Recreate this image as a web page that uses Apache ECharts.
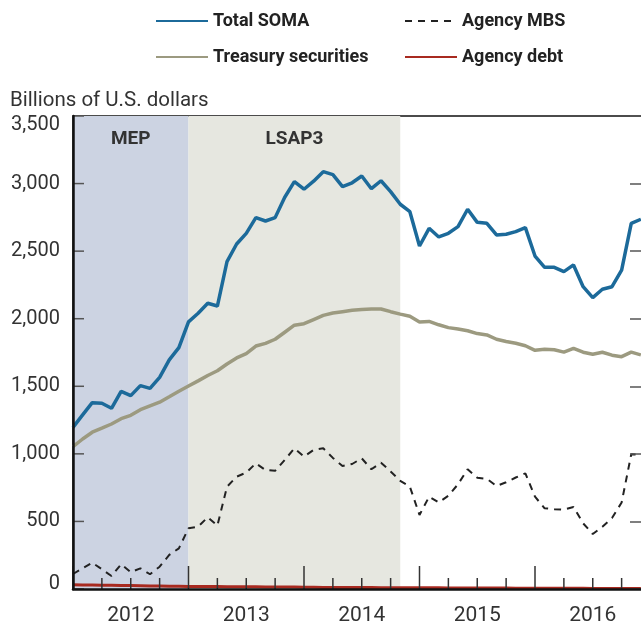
<!DOCTYPE html>
<html>
<head>
<meta charset="utf-8">
<script src="https://cdn.jsdelivr.net/npm/echarts@6/dist/echarts.min.js"></script>
<style>
  html, body { margin: 0; padding: 0; background: #fff; }
  #main { width: 641px; height: 629px; }
</style>
</head>
<body>
<div id="main"></div>
<script>
// monthly, Jan 2012 (index 0) to Dec 2016 (index 59)
var startYear = 2012;
var totalSoma = [1196, 1288, 1379, 1374, 1337, 1463, 1431, 1505, 1485, 1566, 1695, 1786,
  1977, 2040, 2114, 2094, 2422, 2553, 2632, 2748, 2723, 2748, 2899, 3014,
  2958, 3018, 3088, 3066, 2977, 3006, 3056, 2962, 3021, 2940, 2847, 2792,
  2538, 2669, 2605, 2632, 2681, 2810, 2713, 2706, 2620, 2625, 2644, 2674,
  2464, 2380, 2380, 2348, 2398, 2237, 2156, 2218, 2237, 2360, 2706, 2736];
var treasury = [1053, 1110, 1160, 1190, 1221, 1260, 1285, 1327, 1355, 1382, 1422, 1463,
  1502, 1540, 1580, 1615, 1665, 1710, 1742, 1798, 1818, 1848, 1900, 1952,
  1963, 1994, 2025, 2042, 2052, 2062, 2069, 2071, 2072, 2052, 2034, 2018,
  1976, 1980, 1955, 1934, 1924, 1911, 1890, 1880, 1848, 1832, 1818, 1800,
  1766, 1774, 1770, 1753, 1781, 1752, 1737, 1752, 1730, 1719, 1753, 1732];
var agencyMbs = [111, 153, 195, 146, 96, 183, 124, 153, 109, 165, 252, 301,
  449, 461, 531, 469, 757, 831, 861, 930, 880, 875, 955, 1041,
  979, 1029, 1041, 970, 910, 925, 967, 886, 935, 870, 800, 757,
  548, 683, 640, 690, 775, 886, 824, 815, 762, 790, 825, 856,
  683, 597, 591, 587, 607, 486, 407, 461, 525, 640, 997, 992];
var agencyDebt = [32, 30, 29, 28, 27, 26, 25, 24, 23, 22, 21, 20,
  19, 19, 18, 18, 17, 17, 16, 16, 15, 15, 14, 14,
  13, 13, 12, 12, 12, 11, 11, 11, 10, 10, 10, 10,
  9, 9, 9, 8, 8, 8, 7, 7, 7, 7, 6, 6,
  6, 6, 5, 5, 5, 5, 4, 4, 4, 4, 3, 3];
var programs = [['MEP', 0, 12], ['LSAP3', 12, 34]];
var programColors = ['#ccd3e2', '#e6e7e0'];
var yTicks = [0, 500, 1000, 1500, 2000, 2500, 3000, 3500];
// quarter marks (month index); every 12th is a year mark
var quarterTicks = [0, 3, 6, 9, 12, 15, 18, 21, 24, 27, 30, 33, 36, 39, 42, 45, 48, 51, 54, 57];

function pairs(arr) {
  return arr.map(function (v, i) { return [i, v]; });
}
function fmt(v) {
  return String(v).replace(/\B(?=(\d{3})+(?!\d))/g, ',');
}

var chart = echarts.init(document.getElementById('main'));
var font = 'Roboto, "Liberation Sans", sans-serif';
// axis runs to Jan 2017, just past the right edge of the picture
var xMax = 60;
var monthPx = 9.625;
var overhang = 73 + xMax * monthPx - 641;
var plotTop = 116, plotBottom = 589;

var legendText = { fontSize: 18, fontWeight: 'bold', color: '#222', fontFamily: font };

// inward tick marks, placed through the axes' own scales
function xTickSeries() {
  return {
    type: 'custom', silent: true, clip: false, z: 10,
    encode: { x: 0, y: 1 },
    data: quarterTicks.map(function (m) { return [m, 0]; }),
    renderItem: function (params, api) {
      var m = api.value(0);
      var p = api.coord([m, api.value(1)]);
      var len = m % 12 === 0 ? 23 : 11;
      return {
        type: 'line',
        shape: { x1: p[0], y1: p[1], x2: p[0], y2: p[1] - len },
        style: { stroke: '#333', lineWidth: 1.5 }
      };
    }
  };
}
function yTickSeries() {
  return {
    type: 'custom', silent: true, clip: false, z: 10,
    encode: { x: 0, y: 1 },
    data: yTicks.map(function (v) { return [0, v]; }),
    renderItem: function (params, api) {
      var p = api.coord([api.value(0), api.value(1)]);
      return {
        type: 'line',
        shape: { x1: p[0], y1: p[1], x2: p[0] + 11, y2: p[1] },
        style: { stroke: '#555', lineWidth: 1.5 }
      };
    }
  };
}

var option = {
  animation: false,
  textStyle: { fontFamily: font },
  title: {
    text: 'Billions of U.S. dollars',
    left: 5, top: 85,
    textStyle: { fontSize: 20.5, fontWeight: 'normal', color: '#333', fontFamily: font }
  },
  legend: [
    {
      orient: 'vertical', left: 150, top: 7,
      itemWidth: 52, itemHeight: 14, itemGap: 18,
      itemStyle: { opacity: 0 },
      data: ['Total SOMA', 'Treasury securities'],
      textStyle: legendText
    },
    {
      orient: 'vertical', left: 399, top: 7,
      itemWidth: 52, itemHeight: 14, itemGap: 18,
      itemStyle: { opacity: 0 },
      data: ['Agency MBS', 'Agency debt'],
      textStyle: legendText
    }
  ],
  grid: [
    {
      left: 73, right: -overhang, top: plotTop, bottom: 629 - plotBottom,
      outerBoundsMode: 'none', containLabel: false,
      show: true, borderColor: '#111', borderWidth: 1.5
    },
    // thin strip on the right edge whose split lines are the right-hand ticks
    { left: 630, width: 11, top: plotTop, height: plotBottom - plotTop,
      outerBoundsMode: 'none', containLabel: false, show: false }
  ],
  xAxis: [
    {
      type: 'value', min: 0, max: xMax, interval: 12, z: 10,
      splitLine: { show: false },
      axisLine: { show: true, lineStyle: { color: '#111', width: 2.5 } },
      axisTick: { show: false },
      axisLabel: {
        margin: 16, hideOverlap: false,
        formatter: function (v) {
          return v < xMax ? '{y|' + (startYear + v / 12) + '}' : '';
        },
        rich: {
          y: { padding: [0, 0, 0, 12 * monthPx], fontSize: 21, color: '#333', fontFamily: font }
        }
      }
    },
    { type: 'value', gridIndex: 1, show: false, min: 0, max: 1 }
  ],
  yAxis: [
    {
      type: 'value', min: 0, max: 3500, interval: 500, z: 10,
      splitLine: { show: false },
      axisLine: { show: true, lineStyle: { color: '#111', width: 2.5 } },
      axisTick: { show: false },
      axisLabel: {
        margin: 13, fontSize: 20, color: '#333', fontFamily: font,
        formatter: function (v) {
          if (v === yTicks[yTicks.length - 1]) return '{top|' + fmt(v) + '}';
          if (v === 0) return '{bot|0}';
          return fmt(v);
        },
        rich: {
          top: { padding: [17, 0, 0, 0], fontSize: 20, color: '#333', fontFamily: font },
          bot: { padding: [0, 0, 10, 0], fontSize: 20, color: '#333', fontFamily: font }
        }
      }
    },
    {
      type: 'value', gridIndex: 1, min: 0, max: 3500, interval: 500, z: 10,
      axisLine: { show: false }, axisTick: { show: false }, axisLabel: { show: false },
      splitLine: { show: true, lineStyle: { color: '#555', width: 1.5 } }
    }
  ],
  series: [
    {
      name: 'Total SOMA', type: 'line', symbol: 'none', z: 5,
      data: pairs(totalSoma),
      itemStyle: { color: '#1c6a9a' },
      lineStyle: { color: '#1c6a9a', width: 3.5 },
      markArea: {
        silent: true,
        z: 1,
        label: {
          position: 'insideTop', distance: 14,
          fontSize: 19, fontWeight: 'bold', color: '#333', fontFamily: font
        },
        data: programs.map(function (p, i) {
          return [
            { name: p[0], xAxis: p[1], itemStyle: { color: programColors[i] } },
            { xAxis: p[2] }
          ];
        })
      }
    },
    {
      name: 'Agency MBS', type: 'line', symbol: 'none', z: 4,
      data: pairs(agencyMbs),
      itemStyle: { color: '#222' },
      lineStyle: { color: '#222', width: 2, type: [7, 6] }
    },
    {
      name: 'Treasury securities', type: 'line', symbol: 'none', z: 4,
      data: pairs(treasury),
      itemStyle: { color: '#9c9a80' },
      lineStyle: { color: '#9c9a80', width: 3.5 }
    },
    {
      name: 'Agency debt', type: 'line', symbol: 'none', z: 6,
      data: pairs(agencyDebt),
      itemStyle: { color: '#a82a20' },
      lineStyle: { color: '#a82a20', width: 3 }
    },
    xTickSeries(),
    yTickSeries()
  ]
};

chart.setOption(option);
</script>
</body>
</html>
